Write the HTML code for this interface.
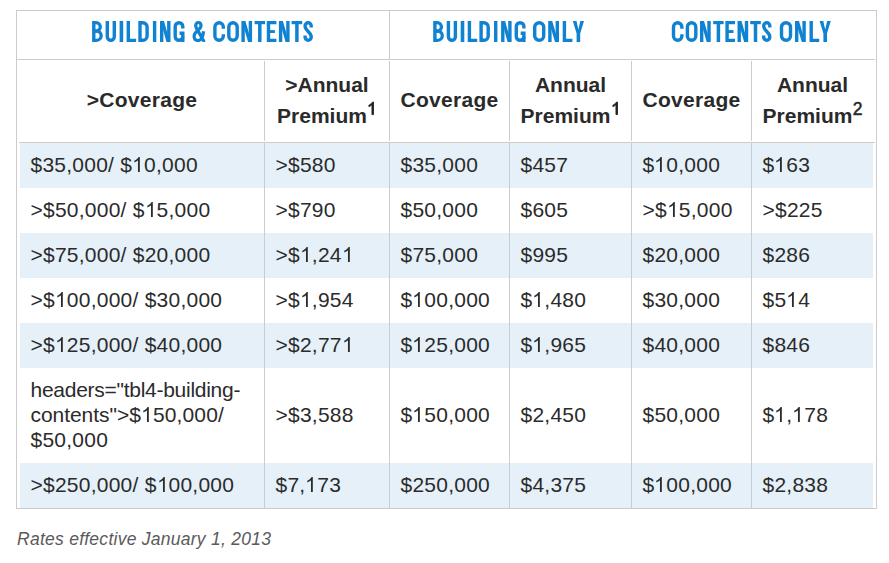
<!DOCTYPE html>
<html><head><meta charset="utf-8"><title>Rates</title>
<style>
html,body{margin:0;padding:0;background:#fff;}
body{width:889px;height:563px;position:relative;overflow:hidden;font-family:"Liberation Sans",sans-serif;color:#222;}
.l{position:absolute;background:#ccc;}
.b{position:absolute;background:#e6f0f8;left:20px;width:853px;}
.t{position:absolute;white-space:nowrap;font-size:21px;line-height:25px;color:#2b2b2b;letter-spacing:0.24px;margin-left:-0.5px;}
.t i{font-style:normal;}
.t .la{letter-spacing:-0.27px;}
.t .lb{letter-spacing:-0.05px;}
.t .lc{letter-spacing:0.12px;}
.h{position:absolute;white-space:nowrap;font-size:21px;line-height:25px;font-weight:bold;color:#2a2a2a;text-align:center;}
.h sup{font-size:17.5px;line-height:0;vertical-align:baseline;position:relative;top:-8.5px;font-weight:normal;-webkit-text-stroke:0.5px #222;margin-left:0.3px;}
.k{letter-spacing:0.28px;}
.w{position:absolute;top:17px;white-space:nowrap;font-weight:bold;color:#1584d4;font-size:30.7px;line-height:32px;transform-origin:0 0;text-shadow:0.7px 0 0 #1584d4,-0.7px 0 0 #1584d4;}
.c{position:absolute;left:17px;top:527px;font-style:italic;color:#5a5a5a;font-size:17.5px;letter-spacing:0.26px;line-height:25px;white-space:nowrap;}
</style></head><body>

<div class="b" style="top:143px;height:45px"></div>
<div class="b" style="top:233px;height:45px"></div>
<div class="b" style="top:323px;height:45px"></div>
<div class="b" style="top:463px;height:45px"></div>
<div class="l" style="left:16px;top:10px;width:861px;height:1px"></div>
<div class="l" style="left:16px;top:508px;width:861px;height:1px"></div>
<div class="l" style="left:16px;top:10px;width:1px;height:499px"></div>
<div class="l" style="left:876px;top:10px;width:1px;height:499px"></div>
<div class="l" style="left:17px;top:59px;width:858px;height:1px"></div>
<div class="l" style="left:19px;top:142px;width:856px;height:1px"></div>
<div class="l" style="left:389px;top:11px;width:1px;height:48px"></div>
<div class="l" style="left:264px;top:61px;width:1px;height:80px"></div>
<div class="l" style="left:264px;top:143px;width:1px;height:365px"></div>
<div class="l" style="left:389px;top:61px;width:1px;height:80px"></div>
<div class="l" style="left:389px;top:143px;width:1px;height:365px"></div>
<div class="l" style="left:509px;top:61px;width:1px;height:80px"></div>
<div class="l" style="left:509px;top:143px;width:1px;height:365px"></div>
<div class="l" style="left:631px;top:61px;width:1px;height:80px"></div>
<div class="l" style="left:631px;top:143px;width:1px;height:365px"></div>
<div class="l" style="left:751px;top:61px;width:1px;height:80px"></div>
<div class="l" style="left:751px;top:143px;width:1px;height:365px"></div>
<svg width="889" height="60" viewBox="0 0 889 60" style="position:absolute;left:0;top:0" fill="none" stroke="#1082d2" stroke-linecap="butt" stroke-linejoin="miter">
<style>.f{fill:#1082d2;stroke:none}</style><clipPath id="cb"><rect x="-2" y="-1" width="20" height="22"/></clipPath>
<g transform="translate(92.1 21)"><path d="M1.7 0V21" stroke-width="3.4"/><path d="M1.7 1.7H4A4.2 4.2 0 0 1 8.2 5.9A4.2 4.2 0 0 1 4 10.1H1.7" stroke-width="3.3"/><path d="M1.7 10.1H4.5A4.6 4.6 0 0 1 9.1 14.7A4.6 4.6 0 0 1 4.5 19.3H1.7" stroke-width="3.3"/></g>
<g transform="translate(105.6 21)"><path d="M1.7 0V15.8A3.5 3.5 0 0 0 8.7 15.8V0" stroke-width="3.4"/></g>
<g transform="translate(119.6 21)"><path d="M1.8 0V21" stroke-width="3.6"/></g>
<g transform="translate(126.6 21)"><path d="M1.7 0V19.4H9.5" stroke-width="3.4"/></g>
<g transform="translate(138.3 21)"><path d="M1.7 1.7H4.5A4.3 4.3 0 0 1 8.8 6V15A4.3 4.3 0 0 1 4.5 19.3H1.7Z" stroke-width="3.4"/></g>
<g transform="translate(152.9 21)"><path d="M1.7 0V21" stroke-width="3.4"/></g>
<g transform="translate(160 21)"><path d="M1.7 0V21" stroke-width="3.4"/><path d="M8.8 0V21" stroke-width="3.4"/><polygon points="0.6,0 4,0 9.9,21 6.5,21" class="f"/></g>
<g transform="translate(173.5 21)"><path d="M9.3 7.56V5.5A3.8 3.8 0 0 0 1.7 5.5V15.5A3.8 3.8 0 0 0 9.3 15.5" stroke-width="3.4"/><path d="M6.1 12.3H9.3V21" stroke-width="3.4"/></g>
<g transform="translate(192.4 21)"><path d="M11.9 21 L4.3 7.6 C2.6 5.2 3.2 1.5 6.0 1.5 C8.8 1.5 9.3 5.0 7.6 7.2 C6.0 9.2 1.7 11.0 1.7 15.3 C1.7 18.4 3.6 19.5 5.6 19.5 C8.6 19.5 10.6 15.5 11.2 10.2" stroke-width="3.2" stroke-linejoin="round" clip-path="url(#cb)"/></g>
<g transform="translate(213.2 21)"><path d="M10.1 7.77V5.9A4.2 4.2 0 0 0 1.7 5.9V15.1A4.2 4.2 0 0 0 10.1 15.1V13.23" stroke-width="3.4"/></g>
<g transform="translate(227.1 21)"><path d="M1.7 5.9A4.2 4.2 0 0 1 10.1 5.9V15.1A4.2 4.2 0 0 1 1.7 15.1Z" stroke-width="3.4"/></g>
<g transform="translate(241.4 21)"><path d="M1.7 0V21" stroke-width="3.4"/><path d="M9 0V21" stroke-width="3.4"/><polygon points="0.6,0 4,0 10.1,21 6.7,21" class="f"/></g>
<g transform="translate(254.6 21)"><path d="M0 1.6H10.4" stroke-width="3.2"/><path d="M5.2 0V21" stroke-width="3.5"/></g>
<g transform="translate(266.8 21)"><path d="M9.6 1.6H1.7V19.4H9.6" stroke-width="3.4"/><path d="M1.7 10.55H8.1" stroke-width="2.9"/></g>
<g transform="translate(278.9 21)"><path d="M1.7 0V21" stroke-width="3.4"/><path d="M9 0V21" stroke-width="3.4"/><polygon points="0.6,0 4,0 10.1,21 6.7,21" class="f"/></g>
<g transform="translate(291.6 21)"><path d="M0 1.6H10.6" stroke-width="3.2"/><path d="M5.3 0V21" stroke-width="3.5"/></g>
<g transform="translate(303.4 21)"><path d="M7.8 6.6V4.75A3.05 3.05 0 0 0 1.7 4.75V5.35C1.7 9.55 7.8 11.45 7.8 15.65V16.25A3.05 3.05 0 0 1 1.7 16.25V14.4" stroke-width="3.4"/></g>
<g transform="translate(433.2 21)"><path d="M1.7 0V21" stroke-width="3.4"/><path d="M1.7 1.7H4A4.2 4.2 0 0 1 8.2 5.9A4.2 4.2 0 0 1 4 10.1H1.7" stroke-width="3.3"/><path d="M1.7 10.1H4.5A4.6 4.6 0 0 1 9.1 14.7A4.6 4.6 0 0 1 4.5 19.3H1.7" stroke-width="3.3"/></g>
<g transform="translate(446.7 21)"><path d="M1.7 0V15.8A3.5 3.5 0 0 0 8.7 15.8V0" stroke-width="3.4"/></g>
<g transform="translate(460.7 21)"><path d="M1.8 0V21" stroke-width="3.6"/></g>
<g transform="translate(467.7 21)"><path d="M1.7 0V19.4H9.5" stroke-width="3.4"/></g>
<g transform="translate(479.4 21)"><path d="M1.7 1.7H4.5A4.3 4.3 0 0 1 8.8 6V15A4.3 4.3 0 0 1 4.5 19.3H1.7Z" stroke-width="3.4"/></g>
<g transform="translate(494 21)"><path d="M1.7 0V21" stroke-width="3.4"/></g>
<g transform="translate(501.1 21)"><path d="M1.7 0V21" stroke-width="3.4"/><path d="M8.8 0V21" stroke-width="3.4"/><polygon points="0.6,0 4,0 9.9,21 6.5,21" class="f"/></g>
<g transform="translate(514.6 21)"><path d="M9.3 7.56V5.5A3.8 3.8 0 0 0 1.7 5.5V15.5A3.8 3.8 0 0 0 9.3 15.5" stroke-width="3.4"/><path d="M6.1 12.3H9.3V21" stroke-width="3.4"/></g>
<g transform="translate(533 21)"><path d="M1.7 6.2A4.5 4.5 0 0 1 10.7 6.2V14.8A4.5 4.5 0 0 1 1.7 14.8Z" stroke-width="3.4"/></g>
<g transform="translate(548.2 21)"><path d="M1.7 0V21" stroke-width="3.4"/><path d="M9.1 0V21" stroke-width="3.4"/><polygon points="0.6,0 4,0 10.2,21 6.8,21" class="f"/></g>
<g transform="translate(562.7 21)"><path d="M1.7 0V19.4H9.7" stroke-width="3.4"/></g>
<g transform="translate(572.8 21)"><polygon points="0,0 3.7,0 5.6,8.4 7.5,0 11.2,0 7.4,12.6 7.4,21 3.8,21 3.8,12.6" class="f"/></g>
<g transform="translate(671.8 21)"><path d="M10.1 7.77V5.9A4.2 4.2 0 0 0 1.7 5.9V15.1A4.2 4.2 0 0 0 10.1 15.1V13.23" stroke-width="3.4"/></g>
<g transform="translate(685.7 21)"><path d="M1.7 5.9A4.2 4.2 0 0 1 10.1 5.9V15.1A4.2 4.2 0 0 1 1.7 15.1Z" stroke-width="3.4"/></g>
<g transform="translate(700 21)"><path d="M1.7 0V21" stroke-width="3.4"/><path d="M9 0V21" stroke-width="3.4"/><polygon points="0.6,0 4,0 10.1,21 6.7,21" class="f"/></g>
<g transform="translate(713.2 21)"><path d="M0 1.6H10.4" stroke-width="3.2"/><path d="M5.2 0V21" stroke-width="3.5"/></g>
<g transform="translate(725.4 21)"><path d="M9.6 1.6H1.7V19.4H9.6" stroke-width="3.4"/><path d="M1.7 10.55H8.1" stroke-width="2.9"/></g>
<g transform="translate(737.5 21)"><path d="M1.7 0V21" stroke-width="3.4"/><path d="M9 0V21" stroke-width="3.4"/><polygon points="0.6,0 4,0 10.1,21 6.7,21" class="f"/></g>
<g transform="translate(750.2 21)"><path d="M0 1.6H10.6" stroke-width="3.2"/><path d="M5.3 0V21" stroke-width="3.5"/></g>
<g transform="translate(762 21)"><path d="M7.8 6.6V4.75A3.05 3.05 0 0 0 1.7 4.75V5.35C1.7 9.55 7.8 11.45 7.8 15.65V16.25A3.05 3.05 0 0 1 1.7 16.25V14.4" stroke-width="3.4"/></g>
<g transform="translate(779.8 21)"><path d="M1.7 6.2A4.5 4.5 0 0 1 10.7 6.2V14.8A4.5 4.5 0 0 1 1.7 14.8Z" stroke-width="3.4"/></g>
<g transform="translate(795 21)"><path d="M1.7 0V21" stroke-width="3.4"/><path d="M9.1 0V21" stroke-width="3.4"/><polygon points="0.6,0 4,0 10.2,21 6.8,21" class="f"/></g>
<g transform="translate(809.5 21)"><path d="M1.7 0V19.4H9.7" stroke-width="3.4"/></g>
<g transform="translate(819.6 21)"><polygon points="0,0 3.7,0 5.6,8.4 7.5,0 11.2,0 7.4,12.6 7.4,21 3.8,21 3.8,12.6" class="f"/></g>
</svg>
<div class="h k" style="left:20px;width:244px;top:87px">&gt;Coverage</div>
<div class="h" style="left:265px;width:124px;top:72px">&gt;Annual</div>
<div class="h" style="left:265px;width:124px;top:103px">Premium<sup><svg width="9.73" height="12.58" viewBox="0 0 9.73 12.58" style="vertical-align:baseline;margin-right:0px;overflow:visible"><path d="M6.52 12.58H4.98V2.78Q4.43 3.31 3.52 3.84Q2.62 4.37 1.91 4.63V3.14Q3.20 2.54 4.16 1.67Q5.13 0.81 5.53 0.00H6.52Z" fill="#222" stroke="#222" stroke-width="0.9"/></svg></sup></div>
<div class="h k" style="left:390px;width:119px;top:87px">Coverage</div>
<div class="h" style="left:510px;width:121px;top:72px">Annual</div>
<div class="h" style="left:510px;width:121px;top:103px">Premium<sup><svg width="9.73" height="12.58" viewBox="0 0 9.73 12.58" style="vertical-align:baseline;margin-right:0px;overflow:visible"><path d="M6.52 12.58H4.98V2.78Q4.43 3.31 3.52 3.84Q2.62 4.37 1.91 4.63V3.14Q3.20 2.54 4.16 1.67Q5.13 0.81 5.53 0.00H6.52Z" fill="#222" stroke="#222" stroke-width="0.9"/></svg></sup></div>
<div class="h k" style="left:632px;width:119px;top:87px">Coverage</div>
<div class="h" style="left:752px;width:121px;top:72px">Annual</div>
<div class="h" style="left:752px;width:121px;top:103px">Premium<sup>2</sup></div>
<div class="t" style="left:31px;top:152px">$35,000/ $<svg width="11.68" height="15.09" viewBox="0 0 11.68 15.09" style="vertical-align:baseline;margin-right:0.24px;overflow:visible"><path d="M7.82 15.09H5.98V3.33Q5.31 3.97 4.23 4.60Q3.15 5.24 2.29 5.56V3.77Q3.83 3.05 4.99 2.01Q6.15 0.97 6.63 0.00H7.82Z" fill="#2b2b2b"/></svg>0,000</div>
<div class="t" style="left:276px;top:152px">&gt;$580</div>
<div class="t" style="left:401px;top:152px">$35,000</div>
<div class="t" style="left:521px;top:152px">$457</div>
<div class="t" style="left:643px;top:152px">$<svg width="11.68" height="15.09" viewBox="0 0 11.68 15.09" style="vertical-align:baseline;margin-right:0.24px;overflow:visible"><path d="M7.82 15.09H5.98V3.33Q5.31 3.97 4.23 4.60Q3.15 5.24 2.29 5.56V3.77Q3.83 3.05 4.99 2.01Q6.15 0.97 6.63 0.00H7.82Z" fill="#2b2b2b"/></svg>0,000</div>
<div class="t" style="left:763px;top:152px">$<svg width="11.68" height="15.09" viewBox="0 0 11.68 15.09" style="vertical-align:baseline;margin-right:0.24px;overflow:visible"><path d="M7.82 15.09H5.98V3.33Q5.31 3.97 4.23 4.60Q3.15 5.24 2.29 5.56V3.77Q3.83 3.05 4.99 2.01Q6.15 0.97 6.63 0.00H7.82Z" fill="#2b2b2b"/></svg>63</div>
<div class="t" style="left:31px;top:197px">&gt;$50,000/ $<svg width="11.68" height="15.09" viewBox="0 0 11.68 15.09" style="vertical-align:baseline;margin-right:0.24px;overflow:visible"><path d="M7.82 15.09H5.98V3.33Q5.31 3.97 4.23 4.60Q3.15 5.24 2.29 5.56V3.77Q3.83 3.05 4.99 2.01Q6.15 0.97 6.63 0.00H7.82Z" fill="#2b2b2b"/></svg>5,000</div>
<div class="t" style="left:276px;top:197px">&gt;$790</div>
<div class="t" style="left:401px;top:197px">$50,000</div>
<div class="t" style="left:521px;top:197px">$605</div>
<div class="t" style="left:643px;top:197px">&gt;$<svg width="11.68" height="15.09" viewBox="0 0 11.68 15.09" style="vertical-align:baseline;margin-right:0.24px;overflow:visible"><path d="M7.82 15.09H5.98V3.33Q5.31 3.97 4.23 4.60Q3.15 5.24 2.29 5.56V3.77Q3.83 3.05 4.99 2.01Q6.15 0.97 6.63 0.00H7.82Z" fill="#2b2b2b"/></svg>5,000</div>
<div class="t" style="left:763px;top:197px">&gt;$225</div>
<div class="t" style="left:31px;top:242px">&gt;$75,000/ $20,000</div>
<div class="t" style="left:276px;top:242px">&gt;$<svg width="11.68" height="15.09" viewBox="0 0 11.68 15.09" style="vertical-align:baseline;margin-right:0.24px;overflow:visible"><path d="M7.82 15.09H5.98V3.33Q5.31 3.97 4.23 4.60Q3.15 5.24 2.29 5.56V3.77Q3.83 3.05 4.99 2.01Q6.15 0.97 6.63 0.00H7.82Z" fill="#2b2b2b"/></svg>,24<svg width="11.68" height="15.09" viewBox="0 0 11.68 15.09" style="vertical-align:baseline;margin-right:0.24px;overflow:visible"><path d="M7.82 15.09H5.98V3.33Q5.31 3.97 4.23 4.60Q3.15 5.24 2.29 5.56V3.77Q3.83 3.05 4.99 2.01Q6.15 0.97 6.63 0.00H7.82Z" fill="#2b2b2b"/></svg></div>
<div class="t" style="left:401px;top:242px">$75,000</div>
<div class="t" style="left:521px;top:242px">$995</div>
<div class="t" style="left:643px;top:242px">$20,000</div>
<div class="t" style="left:763px;top:242px">$286</div>
<div class="t" style="left:31px;top:287px">&gt;$<svg width="11.68" height="15.09" viewBox="0 0 11.68 15.09" style="vertical-align:baseline;margin-right:0.24px;overflow:visible"><path d="M7.82 15.09H5.98V3.33Q5.31 3.97 4.23 4.60Q3.15 5.24 2.29 5.56V3.77Q3.83 3.05 4.99 2.01Q6.15 0.97 6.63 0.00H7.82Z" fill="#2b2b2b"/></svg>00,000/ $30,000</div>
<div class="t" style="left:276px;top:287px">&gt;$<svg width="11.68" height="15.09" viewBox="0 0 11.68 15.09" style="vertical-align:baseline;margin-right:0.24px;overflow:visible"><path d="M7.82 15.09H5.98V3.33Q5.31 3.97 4.23 4.60Q3.15 5.24 2.29 5.56V3.77Q3.83 3.05 4.99 2.01Q6.15 0.97 6.63 0.00H7.82Z" fill="#2b2b2b"/></svg>,954</div>
<div class="t" style="left:401px;top:287px">$<svg width="11.68" height="15.09" viewBox="0 0 11.68 15.09" style="vertical-align:baseline;margin-right:0.24px;overflow:visible"><path d="M7.82 15.09H5.98V3.33Q5.31 3.97 4.23 4.60Q3.15 5.24 2.29 5.56V3.77Q3.83 3.05 4.99 2.01Q6.15 0.97 6.63 0.00H7.82Z" fill="#2b2b2b"/></svg>00,000</div>
<div class="t" style="left:521px;top:287px">$<svg width="11.68" height="15.09" viewBox="0 0 11.68 15.09" style="vertical-align:baseline;margin-right:0.24px;overflow:visible"><path d="M7.82 15.09H5.98V3.33Q5.31 3.97 4.23 4.60Q3.15 5.24 2.29 5.56V3.77Q3.83 3.05 4.99 2.01Q6.15 0.97 6.63 0.00H7.82Z" fill="#2b2b2b"/></svg>,480</div>
<div class="t" style="left:643px;top:287px">$30,000</div>
<div class="t" style="left:763px;top:287px">$5<svg width="11.68" height="15.09" viewBox="0 0 11.68 15.09" style="vertical-align:baseline;margin-right:0.24px;overflow:visible"><path d="M7.82 15.09H5.98V3.33Q5.31 3.97 4.23 4.60Q3.15 5.24 2.29 5.56V3.77Q3.83 3.05 4.99 2.01Q6.15 0.97 6.63 0.00H7.82Z" fill="#2b2b2b"/></svg>4</div>
<div class="t" style="left:31px;top:332px">&gt;$<svg width="11.68" height="15.09" viewBox="0 0 11.68 15.09" style="vertical-align:baseline;margin-right:0.24px;overflow:visible"><path d="M7.82 15.09H5.98V3.33Q5.31 3.97 4.23 4.60Q3.15 5.24 2.29 5.56V3.77Q3.83 3.05 4.99 2.01Q6.15 0.97 6.63 0.00H7.82Z" fill="#2b2b2b"/></svg>25,000/ $40,000</div>
<div class="t" style="left:276px;top:332px">&gt;$2,77<svg width="11.68" height="15.09" viewBox="0 0 11.68 15.09" style="vertical-align:baseline;margin-right:0.24px;overflow:visible"><path d="M7.82 15.09H5.98V3.33Q5.31 3.97 4.23 4.60Q3.15 5.24 2.29 5.56V3.77Q3.83 3.05 4.99 2.01Q6.15 0.97 6.63 0.00H7.82Z" fill="#2b2b2b"/></svg></div>
<div class="t" style="left:401px;top:332px">$<svg width="11.68" height="15.09" viewBox="0 0 11.68 15.09" style="vertical-align:baseline;margin-right:0.24px;overflow:visible"><path d="M7.82 15.09H5.98V3.33Q5.31 3.97 4.23 4.60Q3.15 5.24 2.29 5.56V3.77Q3.83 3.05 4.99 2.01Q6.15 0.97 6.63 0.00H7.82Z" fill="#2b2b2b"/></svg>25,000</div>
<div class="t" style="left:521px;top:332px">$<svg width="11.68" height="15.09" viewBox="0 0 11.68 15.09" style="vertical-align:baseline;margin-right:0.24px;overflow:visible"><path d="M7.82 15.09H5.98V3.33Q5.31 3.97 4.23 4.60Q3.15 5.24 2.29 5.56V3.77Q3.83 3.05 4.99 2.01Q6.15 0.97 6.63 0.00H7.82Z" fill="#2b2b2b"/></svg>,965</div>
<div class="t" style="left:643px;top:332px">$40,000</div>
<div class="t" style="left:763px;top:332px">$846</div>
<div class="t" style="left:31px;top:377px"><i class=la>headers=&quot;tbl4-building-</i></div>
<div class="t" style="left:31px;top:402px"><i class=lb>contents&quot;</i><i class=lc>&gt;$<svg width="11.68" height="15.09" viewBox="0 0 11.68 15.09" style="vertical-align:baseline;margin-right:0.24px;overflow:visible"><path d="M7.82 15.09H5.98V3.33Q5.31 3.97 4.23 4.60Q3.15 5.24 2.29 5.56V3.77Q3.83 3.05 4.99 2.01Q6.15 0.97 6.63 0.00H7.82Z" fill="#2b2b2b"/></svg>50,000/</i></div>
<div class="t" style="left:31px;top:427px">$50,000</div>
<div class="t" style="left:276px;top:402px">&gt;$3,588</div>
<div class="t" style="left:401px;top:402px">$<svg width="11.68" height="15.09" viewBox="0 0 11.68 15.09" style="vertical-align:baseline;margin-right:0.24px;overflow:visible"><path d="M7.82 15.09H5.98V3.33Q5.31 3.97 4.23 4.60Q3.15 5.24 2.29 5.56V3.77Q3.83 3.05 4.99 2.01Q6.15 0.97 6.63 0.00H7.82Z" fill="#2b2b2b"/></svg>50,000</div>
<div class="t" style="left:521px;top:402px">$2,450</div>
<div class="t" style="left:643px;top:402px">$50,000</div>
<div class="t" style="left:763px;top:402px">$<svg width="11.68" height="15.09" viewBox="0 0 11.68 15.09" style="vertical-align:baseline;margin-right:0.24px;overflow:visible"><path d="M7.82 15.09H5.98V3.33Q5.31 3.97 4.23 4.60Q3.15 5.24 2.29 5.56V3.77Q3.83 3.05 4.99 2.01Q6.15 0.97 6.63 0.00H7.82Z" fill="#2b2b2b"/></svg>,<svg width="11.68" height="15.09" viewBox="0 0 11.68 15.09" style="vertical-align:baseline;margin-right:0.24px;overflow:visible"><path d="M7.82 15.09H5.98V3.33Q5.31 3.97 4.23 4.60Q3.15 5.24 2.29 5.56V3.77Q3.83 3.05 4.99 2.01Q6.15 0.97 6.63 0.00H7.82Z" fill="#2b2b2b"/></svg>78</div>
<div class="t" style="left:31px;top:472px">&gt;$250,000/ $<svg width="11.68" height="15.09" viewBox="0 0 11.68 15.09" style="vertical-align:baseline;margin-right:0.24px;overflow:visible"><path d="M7.82 15.09H5.98V3.33Q5.31 3.97 4.23 4.60Q3.15 5.24 2.29 5.56V3.77Q3.83 3.05 4.99 2.01Q6.15 0.97 6.63 0.00H7.82Z" fill="#2b2b2b"/></svg>00,000</div>
<div class="t" style="left:276px;top:472px">$7,<svg width="11.68" height="15.09" viewBox="0 0 11.68 15.09" style="vertical-align:baseline;margin-right:0.24px;overflow:visible"><path d="M7.82 15.09H5.98V3.33Q5.31 3.97 4.23 4.60Q3.15 5.24 2.29 5.56V3.77Q3.83 3.05 4.99 2.01Q6.15 0.97 6.63 0.00H7.82Z" fill="#2b2b2b"/></svg>73</div>
<div class="t" style="left:401px;top:472px">$250,000</div>
<div class="t" style="left:521px;top:472px">$4,375</div>
<div class="t" style="left:643px;top:472px">$<svg width="11.68" height="15.09" viewBox="0 0 11.68 15.09" style="vertical-align:baseline;margin-right:0.24px;overflow:visible"><path d="M7.82 15.09H5.98V3.33Q5.31 3.97 4.23 4.60Q3.15 5.24 2.29 5.56V3.77Q3.83 3.05 4.99 2.01Q6.15 0.97 6.63 0.00H7.82Z" fill="#2b2b2b"/></svg>00,000</div>
<div class="t" style="left:763px;top:472px">$2,838</div>
<div class="c">Rates effective January 1, 2013</div>
</body></html>
